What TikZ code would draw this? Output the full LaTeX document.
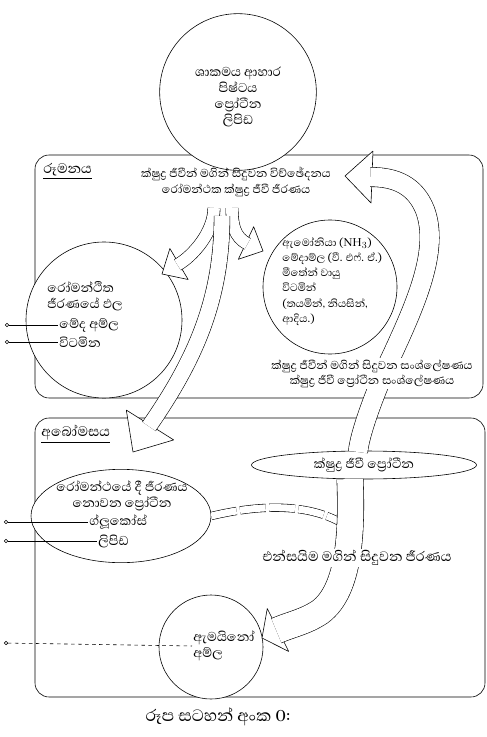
\documentclass[tikz,border=0pt]{standalone}
\usepackage{fontspec}
\setmainfont[Script=Sinhala]{Abhaya Libre}
\usepackage{tikz}
\usetikzlibrary{positioning, calc, arrows.meta, shapes.geometric}

% arrow head: base, tip, half width
\newcommand{\fathead}[3]{\draw[head] ($(#1)!#3!90:(#2)$) -- (#2) -- ($(#1)!#3!-90:(#2)$) -- cycle;}

\begin{document}
\begin{tikzpicture}[
    x=0.03cm, y=-0.03cm,
    ring/.style={circle, draw, fill=white, inner sep=0pt, line width=.5pt},
    blob/.style={ellipse, draw, fill=white, inner sep=0pt, line width=.5pt},
    region/.style={draw, rounded corners=12pt, line width=.5pt},
    band/.style={double=white, double distance=#1, line width=.5pt, shorten >=-1.5pt},
    head/.style={draw, fill=white, line width=.5pt, line join=round},
    txt/.style={font=\fontsize{14}{14}\selectfont, align=center, inner sep=1pt},
    longtxt/.style={font=\fontsize{12.5}{14}\selectfont, align=center, inner sep=1pt},
    lefttxt/.style={txt, align=left},
    absorb/.style={{Circle[open, length=3.5pt]}-, line width=.5pt},
]
\useasboundingbox (0,0) rectangle (487,737);

% rumen and abomasum
\draw[region] (35,155) rectangle (483,398);
\draw[region] (35,418) rectangle (485,697);

\node[ring, minimum size=4.7cm] (feed) at (238,92) {};
\node[ring, minimum size=4.68cm] (vfa) at (104,320) {};
\node[ring, minimum size=4.02cm] (synth) at (330,287) {};
\node[blob, minimum width=5.4cm, minimum height=2.8cm] (undig) at (121,516) {};
\node[blob, minimum width=6.75cm, minimum height=0.84cm] (mprot) at (364,465) {};
\node[ring, minimum size=3.12cm] (amino) at (211,647) {};

% fat arrows
\coordinate (lbase) at (179,264);  \coordinate (ltip) at (162,274);
\coordinate (rbase) at (246,243);  \coordinate (rtip) at (263,251);
\coordinate (dbase) at (150,425);  \coordinate (dtip) at (133,452);
\coordinate (ubase) at (372,177);  \coordinate (utip) at (345,176);
\coordinate (abase) at (278,630);  \coordinate (atip) at (262,638);

\fathead{lbase}{ltip}{0.54cm}
\draw[band=10pt] (214,208) .. controls (214,232) and (193,256) .. (lbase);
\fathead{rbase}{rtip}{0.54cm}
\draw[band=10pt] (232,208) .. controls (232,224) and (234,237) .. (rbase);
\fathead{dbase}{dtip}{0.84cm}
\draw[band=13pt] (222,216) .. controls (222,300) and (195,360) .. (dbase);
\fathead{ubase}{utip}{0.78cm}
\draw[band=16pt] (358,452) .. controls (360,430) and (380,380) .. (393,353)
    .. controls (415,305) and (440,250) .. (425,210)
    .. controls (415,185) and (395,177) .. (ubase);
\draw[double=white, double distance=6pt, line width=.5pt, dash pattern=on 22pt off 3pt]
    (undig.east) .. controls (270,502) and (320,505) .. (352,530);
\fathead{abase}{atip}{0.72cm}
\draw[band=22pt] (350,479) .. controls (352,530) and (350,590) .. (320,612)
    .. controls (305,622) and (292,624) .. (abase);

% texts
\node[txt, anchor=west, font=\fontsize{15}{15}\selectfont] (rumen) at (42,171) {\underline{රූමනය}};
\node[longtxt] (decomp) at (236,174) {ක්ෂුද්‍ර ජීවීන් මගින් සිදුවන විච්ඡේදනය};
\node[longtxt, below=0pt of decomp] (rdig) {රෝමන්ථක ක්ෂුද්‍ර ජීවී ජීරණය};
\node[txt, font=\fontsize{14}{13.5}\selectfont] at (238,97) {ශාකමය ආහාර\\පිෂ්ටය\\ප්‍රෝටීන\\ලිපිඩ};

\node[lefttxt, anchor=west] (prod) at (46,296) {රෝමන්ථිත\\ජීරණයේ ඵල};
\node[lefttxt, anchor=west] (fa) at (58,325) {මේද අම්ල};
\node[lefttxt, anchor=west] (vit) at (58,342) {විටමින};

\node[lefttxt, anchor=north west, font=\fontsize{11.5}{13}\selectfont] (slist) at (281,236)
    {ඇමෝනියා (NH$_3$)\\මේදාම්ල (වී. එෆ්. ඒ.)\\මීතේන් වායු\\විටමින්\\(තයමින්, නියසින්,\\ආදිය.)};

\node[longtxt, fill=white] (syn1) at (372,366) {ක්ෂුද්‍ර ජීවීන් මගින් සිදුවන සංශ්ලේෂණය};
\node[longtxt, fill=white, below=0pt of syn1] (syn2) {ක්ෂුද්‍ර ජීවී ප්‍රෝටීන සංශ්ලේෂණය};

\node[txt, anchor=west, font=\fontsize{15}{15}\selectfont] (abom) at (40,434) {\underline{අබෝමසය}};
\node[txt] at (mprot) {ක්ෂුද්‍ර ජීවී ප්‍රෝටීන};
\node[txt] (bypass) at (122,496) {රෝමන්ථයේ දී ජීරණය\\නොවන ප්‍රෝටීන};
\node[txt, anchor=west] (gluc) at (88,522) {ග්ලූකෝස්};
\node[txt, anchor=west] (lip) at (97,541) {ලිපිඩ};
\node[txt, fill=white, font=\fontsize{15}{15}\selectfont] (enz) at (357,558) {එන්සයිම මගින් සිදුවන ජීරණය};
\node[lefttxt, anchor=west] (aa) at (192,646) {ඇමයිනෝ\\අම්ල};

\node[txt, font=\fontsize{18}{18}\selectfont] (cap) at (218,717) {රූප සටහන් අංක 0:};

% absorption
\coordinate (b1) at (5,325);
\coordinate (b2) at (5,342);
\coordinate (b3) at (4,522);
\coordinate (b4) at (4,541);
\coordinate (b5) at (4,643);
\draw[absorb] (b1) -- (fa.west);
\draw[absorb] (b2) -- (vit.west);
\draw[absorb] (b3) -- (gluc.west);
\draw[absorb] (b4) -- (lip.west);
\draw[absorb, dashed] (b5) -- (aa.west);
\end{tikzpicture}
\end{document}
